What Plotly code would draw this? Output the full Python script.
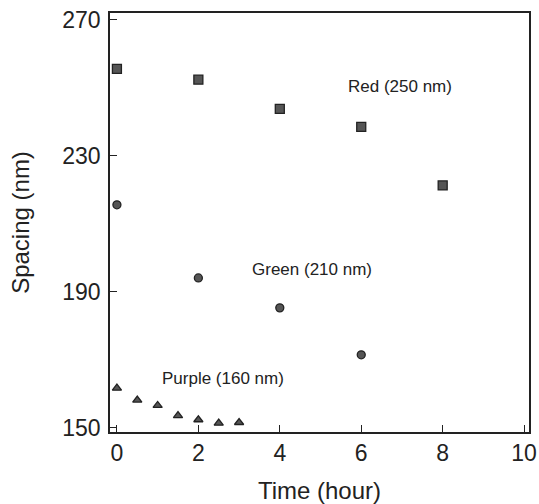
import plotly.graph_objects as go

red_t = [0, 2, 4, 6, 8]
red_s = [255.6, 252.4, 243.8, 238.5, 221.3]
green_t = [0, 2, 4, 6]
green_s = [215.6, 194.1, 185.3, 171.5]
purple_t = [0, 0.5, 1, 1.5, 2, 2.5, 3]
purple_s = [161.7, 158.2, 156.6, 153.6, 152.4, 151.4, 151.6]
x_ticks = [0, 2, 4, 6, 8, 10]
y_ticks = [150, 190, 230, 270]

fig = go.Figure()
fig.add_trace(go.Scatter(x=red_t, y=red_s, mode="markers",
                         marker=dict(symbol="square", size=9, color="#555",
                                     line=dict(color="#222", width=1.3))))
fig.add_trace(go.Scatter(x=green_t, y=green_s, mode="markers",
                         marker=dict(symbol="circle", size=8, color="#555",
                                     line=dict(color="#222", width=1.3))))
fig.add_trace(go.Scatter(x=purple_t, y=purple_s, mode="markers",
                         marker=dict(symbol="triangle-up", size=8, color="#555",
                                     line=dict(color="#222", width=1.3))))

fam = "Liberation Sans, Arial, sans-serif"
ann_font = dict(family=fam, size=17, color="#222")
fig.add_annotation(x=6.95, y=250.3, text="Red (250 nm)", showarrow=False, font=ann_font)
fig.add_annotation(x=4.8, y=196.5, text="Green (210 nm)", showarrow=False, font=ann_font)
fig.add_annotation(x=2.6, y=164.4, text="Purple (160 nm)", showarrow=False, font=ann_font)

tick_font = dict(family=fam, size=23, color="#222")
title_font = dict(family=fam, size=24, color="#222")
fig.update_layout(
    width=539, height=504,
    margin=dict(l=110, r=10, t=13, b=72),
    paper_bgcolor="white", plot_bgcolor="white",
    showlegend=False,
    font=tick_font,
)
fig.update_xaxes(range=[-0.17, 10.12], tickvals=x_ticks, ticks="inside", ticklen=7,
                 tickcolor="#222", showline=True, linecolor="#222", linewidth=1.5,
                 mirror=True, showgrid=False, zeroline=False, automargin=False,
                 title=dict(text="Time (hour)", font=title_font, standoff=18),
                 tickfont=tick_font)
fig.update_yaxes(range=[148.8, 272], tickvals=y_ticks, ticks="inside", ticklen=7,
                 tickcolor="#222", showline=True, linecolor="#222", linewidth=1.5,
                 mirror=True, showgrid=False, zeroline=False, automargin=False,
                 ticklabelstandoff=3,
                 title=dict(text="Spacing (nm)", font=title_font, standoff=26),
                 tickfont=tick_font)

# remove the browser's default 8px body margin so the figure fills the window
fig.write_html("out.html", config={"displayModeBar": False},
               post_script="document.body.style.margin='0px';")
